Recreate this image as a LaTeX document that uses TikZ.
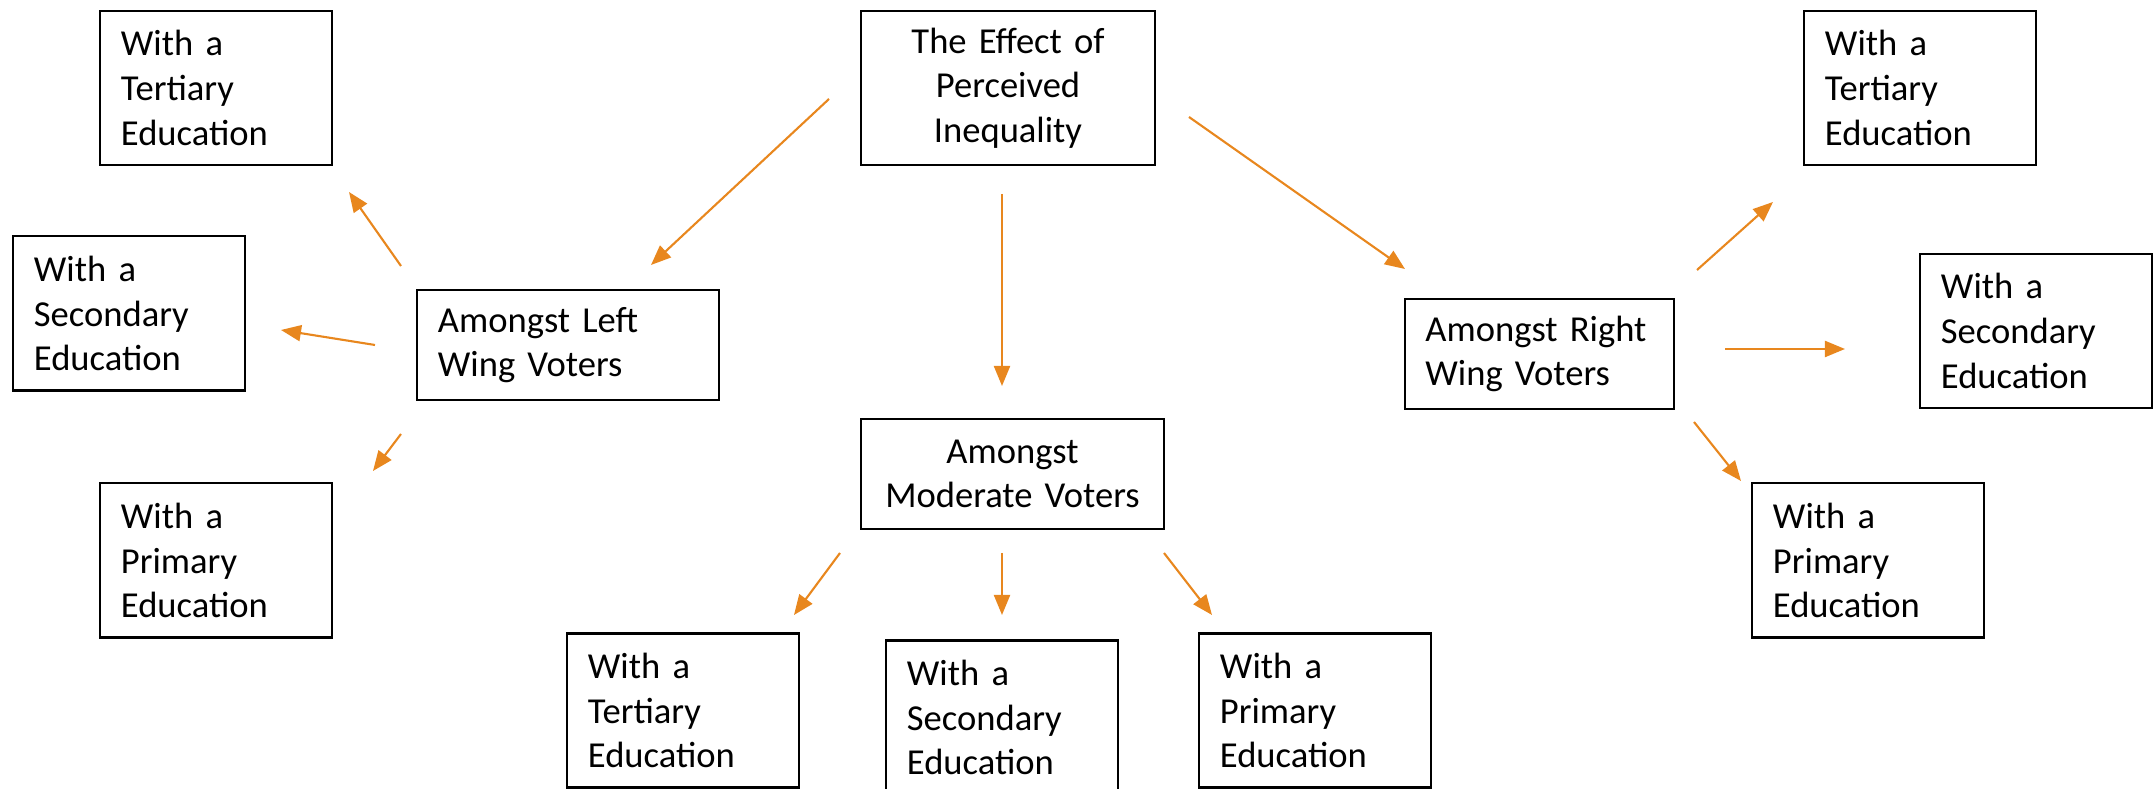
\documentclass[tikz,border=0pt]{standalone}
\usepackage{fontspec}
\setmainfont{Carlito}
\usetikzlibrary{arrows.meta}
\definecolor{flowor}{RGB}{232,135,30}
\begin{document}
\begin{tikzpicture}[x=0.01cm,y=-0.01cm,
  box/.style={draw=black,line width=0.6pt,inner sep=0pt,
    font=\fontsize{10.4pt}{12.7pt}\selectfont},
  edubox/.style={box,minimum width=2.32cm,minimum height=1.54cm,
    text width=1.90cm,inner xsep=0.21cm,align=left},
  groupbox/.style={box,minimum height=1.10cm,inner xsep=0.21cm,align=left},
  headbox/.style={box,minimum height=1.54cm,text width=2.94cm,align=center},
  flow/.style={draw=flowor,line width=0.6pt,
    -{Triangle[length=0.2cm,width=0.16cm]}}]
\useasboundingbox (0,0) rectangle (2153,789);

% central question
\node[headbox] (top) at (1008,88) {The Effect of\\Perceived\\Inequality};

% voter groups
\node[groupbox,text width=2.60cm] (lw) at (568,345) {Amongst Left\\Wing Voters};
\node[groupbox,text width=2.61cm,align=center,inner xsep=0.21cm] (mod) at (1012.5,474) {Amongst\\Moderate Voters};
\node[groupbox,text width=2.28cm,inner xsep=0.205cm] (rw) at (1539.5,354) {Amongst Right\\Wing Voters};

% education levels, left wing
\node[edubox] (lt) at (216,88) {With a\\Tertiary\\Education};
\node[edubox] (ls) at (129,313.5) {With a\\Secondary\\Education};
\node[edubox] (lp) at (216,560.5) {With a\\Primary\\Education};

% education levels, moderates
\node[edubox] (mt) at (683,710.5) {With a\\Tertiary\\Education};
\node[edubox] (ms) at (1002,717.5) {With a\\Secondary\\Education};
\node[edubox] (mp) at (1315,710.5) {With a\\Primary\\Education};

% education levels, right wing
\node[edubox] (rt) at (1920,88) {With a\\Tertiary\\Education};
\node[edubox] (rs) at (2036,331) {With a\\Secondary\\Education};
\node[edubox] (rp) at (1868,560.5) {With a\\Primary\\Education};

% arrow ends
\coordinate (top-lw-s) at (829,99);   \coordinate (top-lw-e) at (651,265);
\coordinate (top-mod-s) at (1002,194); \coordinate (top-mod-e) at (1002,386);
\coordinate (top-rw-s) at (1189,117); \coordinate (top-rw-e) at (1405,269);
\coordinate (lw-lt-s) at (401,266);   \coordinate (lw-lt-e) at (349,192);
\coordinate (lw-ls-s) at (375,345);   \coordinate (lw-ls-e) at (281,330);
\coordinate (lw-lp-s) at (401,434);   \coordinate (lw-lp-e) at (373,471);
\coordinate (mod-mt-s) at (840,553);  \coordinate (mod-mt-e) at (794,615);
\coordinate (mod-ms-s) at (1002,553); \coordinate (mod-ms-e) at (1002,615);
\coordinate (mod-mp-s) at (1164,553); \coordinate (mod-mp-e) at (1212,615);
\coordinate (rw-rt-s) at (1697,270);  \coordinate (rw-rt-e) at (1773,202);
\coordinate (rw-rs-s) at (1725,349);  \coordinate (rw-rs-e) at (1845,349);
\coordinate (rw-rp-s) at (1694,422);  \coordinate (rw-rp-e) at (1741,481);

\draw[flow] (top-lw-s) -- (top-lw-e);
\draw[flow] (top-mod-s) -- (top-mod-e);
\draw[flow] (top-rw-s) -- (top-rw-e);
\draw[flow] (lw-lt-s) -- (lw-lt-e);
\draw[flow] (lw-ls-s) -- (lw-ls-e);
\draw[flow] (lw-lp-s) -- (lw-lp-e);
\draw[flow] (mod-mt-s) -- (mod-mt-e);
\draw[flow] (mod-ms-s) -- (mod-ms-e);
\draw[flow] (mod-mp-s) -- (mod-mp-e);
\draw[flow] (rw-rt-s) -- (rw-rt-e);
\draw[flow] (rw-rs-s) -- (rw-rs-e);
\draw[flow] (rw-rp-s) -- (rw-rp-e);
\end{tikzpicture}
\end{document}
